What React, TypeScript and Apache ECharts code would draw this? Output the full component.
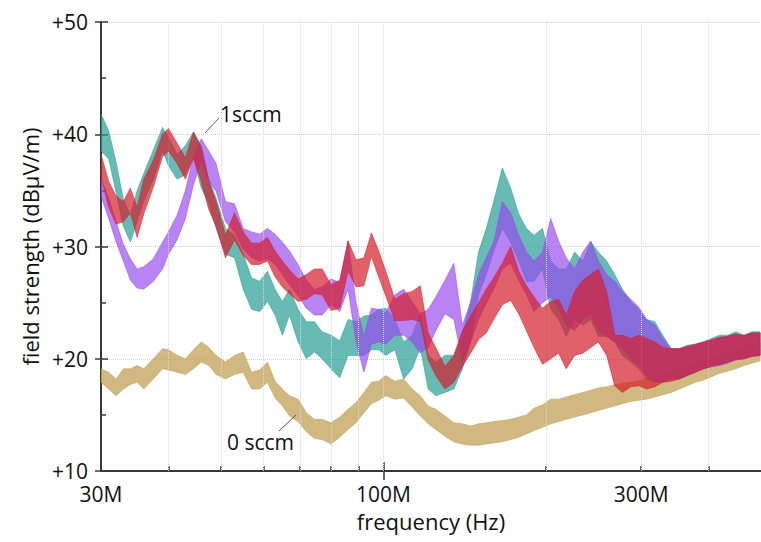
import React, { useEffect, useRef } from "react";
import * as echarts from "echarts";

// Frequency grid (MHz)
const FREQ_MHZ = [30, 31, 32, 33, 34, 35, 36, 37.5, 39, 40, 41.5, 43, 44.5, 46, 47.5, 49, 51, 53, 55, 57, 59, 61, 63, 65, 67, 69.5, 72, 74.5, 77, 80, 83, 86, 89, 92, 95, 98, 101, 105, 109, 113, 117, 121, 125, 130, 135, 140, 145, 150, 155, 160, 166, 172, 178, 184, 190, 197, 204, 211, 218, 226, 234, 242, 250, 259, 268, 277, 287, 297, 307, 318, 329, 341, 353, 365, 378, 391, 405, 419, 434, 449, 465, 481, 498];

// 0 sccm (tan) envelope, dBµV/m
const TAN_LO = [17.9, 17.3, 16.7, 17.3, 17.7, 17.9, 17.3, 18.2, 19.1, 19.0, 18.8, 18.6, 19.1, 19.7, 19.4, 18.6, 18.2, 18.6, 18.8, 17.3, 17.3, 17.9, 16.5, 15.8, 14.9, 14.4, 13.5, 12.9, 12.8, 12.4, 13.0, 13.7, 14.3, 15.2, 16.0, 16.3, 16.7, 16.4, 16.5, 15.7, 14.9, 14.2, 13.7, 13.1, 12.6, 12.4, 12.3, 12.3, 12.4, 12.5, 12.6, 12.8, 13.0, 13.3, 13.6, 13.9, 14.2, 14.4, 14.6, 14.8, 15.0, 15.2, 15.4, 15.6, 15.8, 16.0, 16.2, 16.3, 16.4, 16.6, 16.8, 17.0, 17.3, 17.6, 17.9, 18.1, 18.4, 18.7, 18.9, 19.1, 19.4, 19.6, 19.8];
const TAN_HI = [19.1, 18.8, 18.2, 19.1, 19.1, 19.4, 19.1, 20.0, 20.9, 20.8, 20.3, 20.0, 20.8, 21.5, 21.0, 20.3, 19.7, 20.3, 20.6, 18.8, 19.0, 19.7, 18.0, 17.3, 16.7, 16.4, 15.2, 14.6, 14.6, 14.3, 14.8, 15.5, 16.1, 17.0, 17.9, 18.0, 18.5, 18.0, 18.2, 17.3, 16.7, 15.8, 15.5, 14.9, 14.3, 14.2, 14.0, 14.2, 14.3, 14.4, 14.5, 14.6, 14.8, 15.0, 15.6, 15.9, 16.4, 16.4, 16.6, 16.8, 17.0, 17.2, 17.4, 17.5, 17.7, 17.8, 17.9, 18.0, 18.3, 18.4, 18.6, 18.8, 19.0, 19.3, 19.6, 19.8, 20.0, 20.3, 20.5, 20.8, 21.0, 21.2, 21.4];

// teal envelope
const TEAL_LO = [38.5, 37.8, 34.8, 31.8, 30.4, 32.2, 34.0, 36.0, 38.5, 37.2, 36.0, 36.4, 37.9, 35.2, 33.8, 31.6, 29.3, 29.0, 26.2, 24.4, 24.2, 25.1, 23.9, 22.1, 23.9, 21.5, 20.0, 20.6, 20.0, 19.1, 18.3, 20.3, 20.3, 20.3, 20.8, 20.8, 20.3, 20.8, 18.2, 19.1, 21.0, 17.3, 16.7, 17.0, 17.3, 19.1, 21.5, 25.7, 27.5, 29.6, 31.6, 30.4, 28.7, 26.9, 26.9, 28.0, 24.4, 23.5, 22.0, 23.5, 23.0, 23.5, 22.0, 22.0, 21.5, 20.3, 19.7, 19.1, 18.2, 17.9, 17.9, 18.2, 18.2, 18.5, 18.8, 19.1, 19.4, 19.4, 19.7, 20.0, 20.0, 20.3, 20.3];
const TEAL_HI = [41.8, 40.3, 37.5, 34.2, 32.8, 35.0, 36.5, 38.6, 40.6, 39.7, 38.2, 39.0, 40.2, 39.0, 36.0, 34.3, 31.6, 31.0, 29.3, 27.2, 26.9, 27.8, 26.2, 25.1, 26.2, 24.4, 23.3, 23.3, 22.4, 22.1, 21.6, 23.5, 23.3, 23.8, 23.9, 24.4, 24.5, 23.5, 21.5, 22.1, 24.0, 20.3, 19.7, 20.3, 20.3, 22.1, 25.1, 29.5, 31.6, 34.0, 37.0, 35.2, 32.9, 31.6, 31.0, 31.6, 28.7, 28.0, 28.0, 29.5, 28.7, 30.4, 29.5, 28.7, 27.5, 26.2, 25.1, 24.4, 23.5, 23.3, 22.1, 20.9, 20.9, 21.2, 21.3, 21.5, 21.8, 22.1, 22.1, 22.4, 22.1, 22.4, 22.4];

// purple envelope
const PURPLE_LO = [34.5, 32.5, 30.4, 28.7, 27.0, 26.3, 26.2, 26.9, 28.0, 29.3, 30.6, 32.5, 35.5, 37.6, 35.8, 34.9, 32.2, 31.3, 29.8, 29.0, 28.7, 28.9, 28.4, 27.5, 26.6, 25.6, 24.5, 23.9, 23.9, 24.8, 24.2, 26.2, 21.5, 18.8, 21.3, 21.5, 21.3, 22.1, 22.1, 21.5, 20.5, 21.0, 22.5, 24.0, 23.5, 19.8, 21.5, 23.5, 24.9, 26.2, 28.0, 28.5, 27.0, 25.7, 24.2, 25.0, 25.5, 24.5, 23.0, 22.5, 23.5, 24.0, 22.5, 22.0, 21.5, 20.9, 20.0, 19.4, 18.5, 18.0, 18.0, 18.2, 18.2, 18.5, 18.8, 19.1, 19.3, 19.4, 19.6, 19.9, 20.0, 20.2, 20.3];
const PURPLE_HI = [36.0, 34.3, 32.2, 30.2, 28.9, 28.0, 28.2, 28.9, 30.4, 31.3, 32.8, 35.0, 38.0, 39.6, 38.5, 37.4, 34.0, 33.8, 31.6, 31.3, 31.1, 31.6, 31.1, 30.4, 29.6, 28.4, 27.0, 26.2, 26.4, 27.1, 26.8, 30.5, 25.0, 22.0, 24.5, 24.4, 24.1, 25.7, 26.2, 25.1, 24.0, 24.4, 25.5, 27.0, 28.5, 23.0, 25.0, 27.5, 29.0, 30.4, 34.0, 33.0, 31.0, 29.5, 28.7, 29.5, 32.5, 30.5, 29.0, 28.0, 29.5, 30.5, 28.7, 27.5, 26.9, 26.0, 25.3, 24.6, 23.5, 23.0, 21.8, 20.9, 20.9, 21.0, 21.2, 21.4, 21.6, 21.9, 22.0, 22.2, 22.0, 22.3, 22.3];

// 1 sccm (red) envelope
const RED_LO = [36.2, 33.5, 32.0, 32.2, 33.0, 30.8, 32.9, 35.3, 38.0, 38.5, 37.4, 36.0, 37.9, 35.8, 33.3, 31.8, 29.0, 30.6, 29.2, 28.4, 28.4, 28.7, 27.3, 26.4, 25.8, 25.1, 25.3, 25.8, 25.7, 24.3, 24.5, 27.8, 26.4, 26.5, 29.1, 27.3, 25.6, 23.4, 23.4, 23.5, 23.3, 19.9, 18.5, 17.3, 17.9, 19.3, 20.5, 21.7, 22.3, 23.5, 24.8, 25.2, 24.0, 22.5, 21.0, 19.5, 20.0, 20.5, 19.1, 20.3, 20.5, 21.0, 21.5, 20.3, 17.6, 17.0, 17.5, 17.6, 17.3, 17.5, 17.9, 18.0, 18.2, 18.5, 18.8, 19.1, 19.3, 19.5, 19.7, 19.9, 20.0, 20.2, 20.3];
const RED_HI = [38.2, 35.8, 34.5, 34.0, 35.2, 33.5, 36.0, 37.7, 40.0, 40.5, 39.2, 37.9, 40.2, 38.8, 35.8, 34.0, 31.0, 33.0, 31.3, 30.3, 30.3, 30.8, 29.6, 28.7, 27.9, 27.1, 27.5, 28.0, 28.0, 26.6, 27.0, 30.5, 28.8, 29.0, 31.2, 29.6, 27.8, 25.3, 25.8, 26.0, 26.5, 22.3, 21.0, 19.3, 20.3, 22.5, 23.8, 25.0, 26.2, 27.2, 28.5, 30.0, 27.8, 26.5, 25.5, 24.5, 25.1, 25.3, 23.9, 26.0, 27.0, 27.5, 28.0, 26.0, 22.1, 22.1, 21.8, 22.1, 21.8, 21.5, 21.0, 20.9, 20.9, 21.1, 21.3, 21.5, 21.7, 21.9, 22.0, 22.2, 22.1, 22.3, 22.3];

const X_LABELS = [30e6, 100e6, 300e6];
const X_MINOR = [40e6, 50e6, 60e6, 70e6, 80e6, 90e6, 200e6, 300e6, 400e6];
const X_MAJOR = [100e6];
const X_GRID = [40e6, 50e6, 60e6, 70e6, 80e6, 90e6, 100e6, 200e6, 300e6, 400e6];

const FONT = "'Open Sans', 'DejaVu Sans', sans-serif";
const TXT = "#111111";

function band(name: string, lo: number[], hi: number[], color: string, z: number) {
  const data = FREQ_MHZ.map((f, i) => [f * 1e6, lo[i], hi[i]]);
  return {
    type: "custom",
    name,
    z,
    xAxisIndex: 0,
    yAxisIndex: 0,
    clip: true,
    silent: true,
    data,
    encode: { x: 0, y: [1, 2] },
    renderItem: (params: any, api: any) => {
      if (params.dataIndex !== 0) return null;
      const top = data.map((d) => api.coord([d[0], d[2]]));
      const bot = data.map((d) => api.coord([d[0], d[1]])).reverse();
      return {
        type: "polygon",
        shape: { points: top.concat(bot) },
        style: { fill: color, stroke: color, lineWidth: 0.8, lineJoin: "round" },
      };
    },
  };
}

export default function App() {
  const ref = useRef<HTMLDivElement>(null);
  useEffect(() => {
    if (!ref.current) return;
    const chart = echarts.init(ref.current, undefined, { renderer: "svg" });
    const axisColor = "#383838";
    const baseX = {
      type: "log",
      logBase: 10,
      min: 30e6,
      max: 500e6,
      position: "bottom",
      gridIndex: 0,
      splitLine: { show: false },
    };
    const baseY = {
      type: "value",
      min: 10,
      max: 50,
      interval: 10,
      position: "left",
      gridIndex: 0,
    };
    chart.setOption({
      animation: false,
      backgroundColor: "#ffffff",
      grid: { left: 101, top: 22, width: 666, height: 449, containLabel: false },
      xAxis: [
        {
          ...baseX,
          axisLine: { show: true, lineStyle: { color: axisColor, width: 2 } },
          axisTick: { show: true, inside: true, length: 5, customValues: X_MINOR, lineStyle: { color: axisColor, width: 1.5 } },
          axisLabel: {
            show: true,
            customValues: X_LABELS,
            formatter: (v: number) => Math.round(v / 1e6) + "M",
            margin: 12,
            fontSize: 21,
            color: TXT,
            fontFamily: FONT,
          },
          name: "frequency (Hz)",
          nameLocation: "middle",
          nameGap: 39,
          nameTextStyle: { fontSize: 22, color: TXT, fontFamily: FONT },
        },
        {
          ...baseX,
          axisLine: { show: false },
          axisTick: { show: true, inside: true, length: 9, customValues: X_MAJOR, lineStyle: { color: axisColor, width: 1.5 } },
          axisLabel: { show: false },
        },
        {
          ...baseX,
          axisLine: { show: false },
          axisTick: { show: true, inside: false, length: 9, customValues: X_MAJOR, lineStyle: { color: axisColor, width: 1.5 } },
          axisLabel: { show: false },
        },
      ],
      yAxis: [
        {
          ...baseY,
          axisLine: { show: true, lineStyle: { color: axisColor, width: 2 } },
          axisTick: { show: true, inside: false, length: 6, lineStyle: { color: axisColor, width: 1.5 } },
          axisLabel: {
            formatter: (v: number) => "+" + v,
            margin: 13,
            fontSize: 21,
            color: TXT,
            fontFamily: FONT,
          },
          splitLine: { show: true, lineStyle: { color: "#d0d0d0", type: "dotted", width: 1 } },
          name: "field strength (dBµV/m)",
          nameLocation: "middle",
          nameGap: 60,
          nameTextStyle: { fontSize: 22, color: TXT, fontFamily: FONT },
        },
        {
          ...baseY,
          axisLine: { show: false },
          axisTick: { show: true, inside: true, length: 7, lineStyle: { color: axisColor, width: 1.5 } },
          minorTick: { show: true, splitNumber: 2, length: 5, lineStyle: { color: axisColor, width: 1.5 } },
          axisLabel: { show: false },
          splitLine: { show: false },
        },
      ],
      series: [
        {
          type: "line",
          name: "grid",
          data: [],
          silent: true,
          z: 1,
          markLine: {
            silent: true,
            symbol: "none",
            label: { show: false },
            lineStyle: { color: "#d8d8d8", type: "dotted", width: 1 },
            data: X_GRID.map((v) => ({ xAxis: v })),
          },
        },
        band("0 sccm", TAN_LO, TAN_HI, "rgba(198,166,96,0.8)", 2),
        band("teal", TEAL_LO, TEAL_HI, "rgba(38,158,148,0.7)", 3),
        band("purple", PURPLE_LO, PURPLE_HI, "rgba(150,72,238,0.68)", 4),
        band("1 sccm", RED_LO, RED_HI, "rgba(212,30,44,0.7)", 5),
      ],
      graphic: [
        { type: "line", shape: { x1: 205, y1: 133, x2: 219, y2: 118 }, style: { stroke: "#555", lineWidth: 1 }, z: 10 },
        { type: "text", x: 220, y: 114, style: { text: "1sccm", fontSize: 21, fill: TXT, fontFamily: FONT, verticalAlign: "middle" }, z: 10 },
        { type: "line", shape: { x1: 279, y1: 431, x2: 296, y2: 415 }, style: { stroke: "#555", lineWidth: 1 }, z: 10 },
        { type: "text", x: 227, y: 442, style: { text: "0 sccm", fontSize: 21, fill: TXT, fontFamily: FONT, verticalAlign: "middle" }, z: 10 },
      ],
    });
    return () => chart.dispose();
  }, []);
  return (
    <div
      ref={ref}
      style={{ position: "fixed", left: 0, top: 0, width: 761, height: 542, background: "#fff" }}
    />
  );
}
